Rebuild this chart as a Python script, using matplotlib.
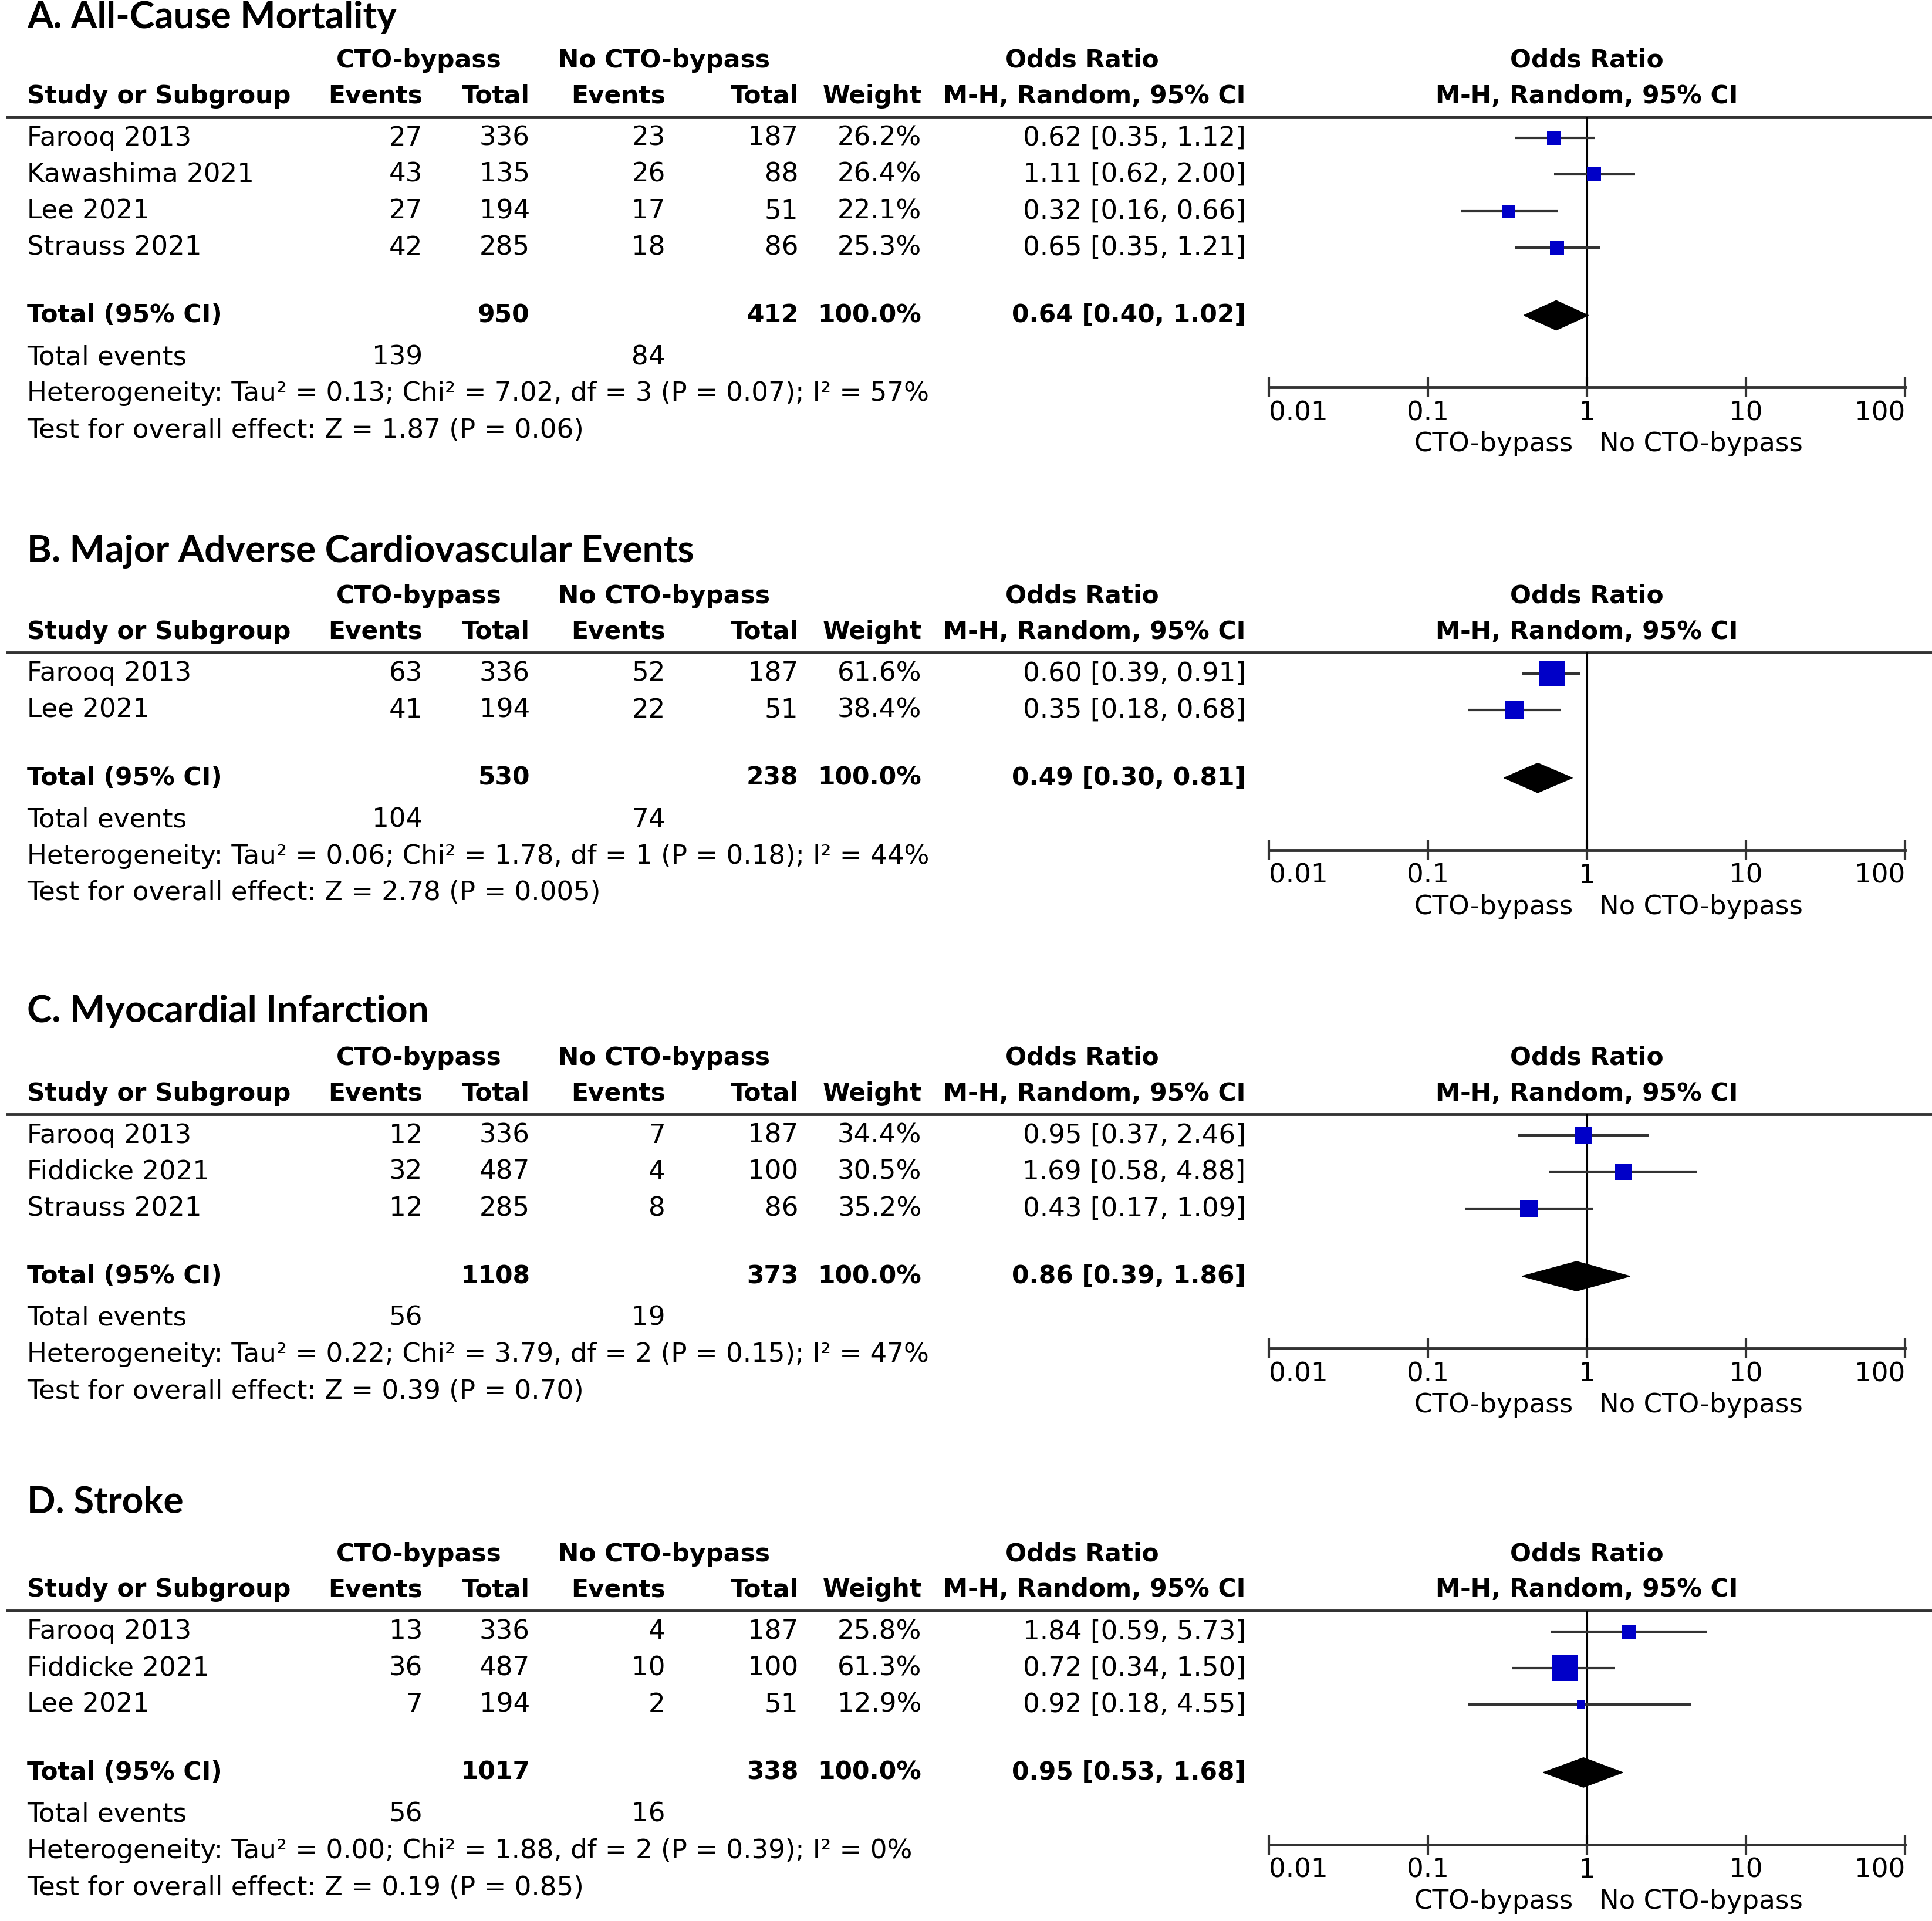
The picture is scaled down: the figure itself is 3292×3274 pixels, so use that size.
import numpy as np
import matplotlib
matplotlib.use("Agg")
import matplotlib.pyplot as plt
from matplotlib.ticker import NullLocator

# data
panel_titles = ["A. All-Cause Mortality", "B. Major Adverse Cardiovascular Events",
                "C. Myocardial Infarction", "D. Stroke"]
study_names = [["Farooq 2013", "Kawashima 2021", "Lee 2021", "Strauss 2021"],
               ["Farooq 2013", "Lee 2021"],
               ["Farooq 2013", "Fiddicke 2021", "Strauss 2021"],
               ["Farooq 2013", "Fiddicke 2021", "Lee 2021"]]
cto_events = [[27, 43, 27, 42], [63, 41], [12, 32, 12], [13, 36, 7]]
cto_totals = [[336, 135, 194, 285], [336, 194], [336, 487, 285], [336, 487, 194]]
no_events = [[23, 26, 17, 18], [52, 22], [7, 4, 8], [4, 10, 2]]
no_totals = [[187, 88, 51, 86], [187, 51], [187, 100, 86], [187, 100, 51]]
weights = [[26.2, 26.4, 22.1, 25.3], [61.6, 38.4], [34.4, 30.5, 35.2], [25.8, 61.3, 12.9]]
odds = [[0.62, 1.11, 0.32, 0.65], [0.60, 0.35], [0.95, 1.69, 0.43], [1.84, 0.72, 0.92]]
ci_low = [[0.35, 0.62, 0.16, 0.35], [0.39, 0.18], [0.37, 0.58, 0.17], [0.59, 0.34, 0.18]]
ci_high = [[1.12, 2.00, 0.66, 1.21], [0.91, 0.68], [2.46, 4.88, 1.09], [5.73, 1.50, 4.55]]

pooled_or = [0.64, 0.49, 0.86, 0.95]
pooled_low = [0.40, 0.30, 0.39, 0.53]
pooled_high = [1.02, 0.81, 1.86, 1.68]
sum_cto_total = [950, 530, 1108, 1017]
sum_no_total = [412, 238, 373, 338]
sum_cto_events = [139, 104, 56, 56]
sum_no_events = [84, 74, 19, 16]
tau2 = ["0.13", "0.06", "0.22", "0.00"]
chi2 = ["7.02", "1.78", "3.79", "1.88"]
dfree = [3, 1, 2, 2]
p_het = ["0.07", "0.18", "0.15", "0.39"]
i2 = [57, 44, 47, 0]
z_val = ["1.87", "2.78", "0.39", "0.19"]
p_z = ["0.06", "0.005", "0.70", "0.85"]

axis_ticks = [0.01, 0.1, 1, 10, 100]
tick_labels = ["0.01", "0.1", "1", "10", "100"]

# layout, in half-scale units of the reference
W, H = 1568, 1560
S = 3292 / W
title_y = [14, 448, 821, 1220]
line_y = [95, 530, 905, 1308]
x_lab, x_cev, x_ctot, x_nev, x_ntot, x_w, x_or = 22, 343, 430, 540, 648, 748, 1011
f_left, f_right = 1030, 1546
fs = 32.5
fs_b = 30.5
blue = "#0000C8"
grey = "#333333"

fig = plt.figure(figsize=(32.92, 32.74), dpi=100)
base = fig.add_axes([0, 0, 1, 1])
base.set_xlim(0, W)
base.set_ylim(H, 0)
base.axis("off")


def txt(x, y, s, ha="left", bold=False, **kw):
    base.text(x, y, s, ha=ha, va="center", fontsize=fs_b if bold else fs,
              fontweight="bold" if bold else "normal", family="DejaVu Sans", **kw)


for k in range(4):
    ly = line_y[k]
    base.text(x_lab, title_y[k], panel_titles[k], fontsize=46, fontweight="bold",
              family="Lato", va="center")
    h1, h2 = ly - 46, ly - 17
    txt(340, h1, "CTO-bypass", ha="center", bold=True)
    txt(539, h1, "No CTO-bypass", ha="center", bold=True)
    txt(878, h1, "Odds Ratio", ha="center", bold=True)
    txt(1288, h1, "Odds Ratio", ha="center", bold=True)
    txt(x_lab, h2, "Study or Subgroup", bold=True)
    txt(x_cev, h2, "Events", ha="right", bold=True)
    txt(x_ctot, h2, "Total", ha="right", bold=True)
    txt(x_nev, h2, "Events", ha="right", bold=True)
    txt(x_ntot, h2, "Total", ha="right", bold=True)
    txt(x_w, h2, "Weight", ha="right", bold=True)
    txt(x_or, h2, "M-H, Random, 95% CI", ha="right", bold=True)
    txt(1288, h2, "M-H, Random, 95% CI", ha="center", bold=True)
    base.plot([5, W], [ly, ly], color=grey, lw=3.5, solid_capstyle="butt")

    n = len(study_names[k])
    rows = ly + 17 + 29.7 * np.arange(n)
    for i in range(n):
        y = rows[i]
        txt(x_lab, y, study_names[k][i])
        txt(x_cev, y, str(cto_events[k][i]), ha="right")
        txt(x_ctot, y, str(cto_totals[k][i]), ha="right")
        txt(x_nev, y, str(no_events[k][i]), ha="right")
        txt(x_ntot, y, str(no_totals[k][i]), ha="right")
        txt(x_w, y, f"{weights[k][i]:.1f}%", ha="right")
        txt(x_or, y, f"{odds[k][i]:.2f} [{ci_low[k][i]:.2f}, {ci_high[k][i]:.2f}]", ha="right")

    total_y = rows[-1] + 55
    te_y = total_y + 34
    het_y = te_y + 29.5
    test_y = het_y + 30
    axis_y = het_y - 5
    txt(x_lab, total_y, "Total (95% CI)", bold=True)
    txt(x_ctot, total_y, str(sum_cto_total[k]), ha="right", bold=True)
    txt(x_ntot, total_y, str(sum_no_total[k]), ha="right", bold=True)
    txt(x_w, total_y, "100.0%", ha="right", bold=True)
    txt(x_or, total_y, f"{pooled_or[k]:.2f} [{pooled_low[k]:.2f}, {pooled_high[k]:.2f}]",
        ha="right", bold=True)
    txt(x_lab, te_y, "Total events")
    txt(x_cev, te_y, str(sum_cto_events[k]), ha="right")
    txt(x_nev, te_y, str(sum_no_events[k]), ha="right")
    txt(x_lab, het_y, f"Heterogeneity: Tau\u00b2 = {tau2[k]}; Chi\u00b2 = {chi2[k]}, "
                      f"df = {dfree[k]} (P = {p_het[k]}); I\u00b2 = {i2[k]}%")
    txt(x_lab, test_y, f"Test for overall effect: Z = {z_val[k]} (P = {p_z[k]})")
    txt(1277, axis_y + 46, "CTO-bypass", ha="right")
    txt(1298, axis_y + 46, "No CTO-bypass")

    # forest part
    ax = fig.add_axes([f_left / W, 1 - axis_y / H, (f_right - f_left) / W, (axis_y - ly) / H])
    ax.set_xscale("log")
    ax.set_xlim(0.01, 100)
    ax.set_ylim(axis_y, ly)
    ax.patch.set_visible(False)
    for sp in ["top", "left", "right"]:
        ax.spines[sp].set_visible(False)
    ax.spines["bottom"].set_linewidth(3.5)
    ax.spines["bottom"].set_color(grey)
    ax.set_xticks(axis_ticks)
    ax.set_xticklabels(tick_labels, fontsize=fs, family="DejaVu Sans")
    ax.xaxis.set_minor_locator(NullLocator())
    ax.tick_params(axis="x", direction="inout", length=24, width=3, color=grey, pad=4)
    ax.set_yticks([])
    lbls = ax.get_xticklabels()
    lbls[0].set_ha("left")
    lbls[-1].set_ha("right")

    ax.axvline(1, color="black", lw=2.2, zorder=2)
    for i in range(n):
        y = rows[i]
        ax.plot([ci_low[k][i], ci_high[k][i]], [y, y], color=grey, lw=3,
                solid_capstyle="butt", zorder=3)
        side = 21 * (weights[k][i] / 61.3) ** 0.7 * S * 0.72
        ax.plot(odds[k][i], y, marker="s", ms=side, color=blue, mec=blue, mew=0, zorder=4)
    ax.fill([pooled_low[k], pooled_or[k], pooled_high[k], pooled_or[k]],
            [total_y, total_y - 12, total_y, total_y + 12], color="black", zorder=4,
            clip_on=False)

fig.savefig("out.png", dpi=100)
